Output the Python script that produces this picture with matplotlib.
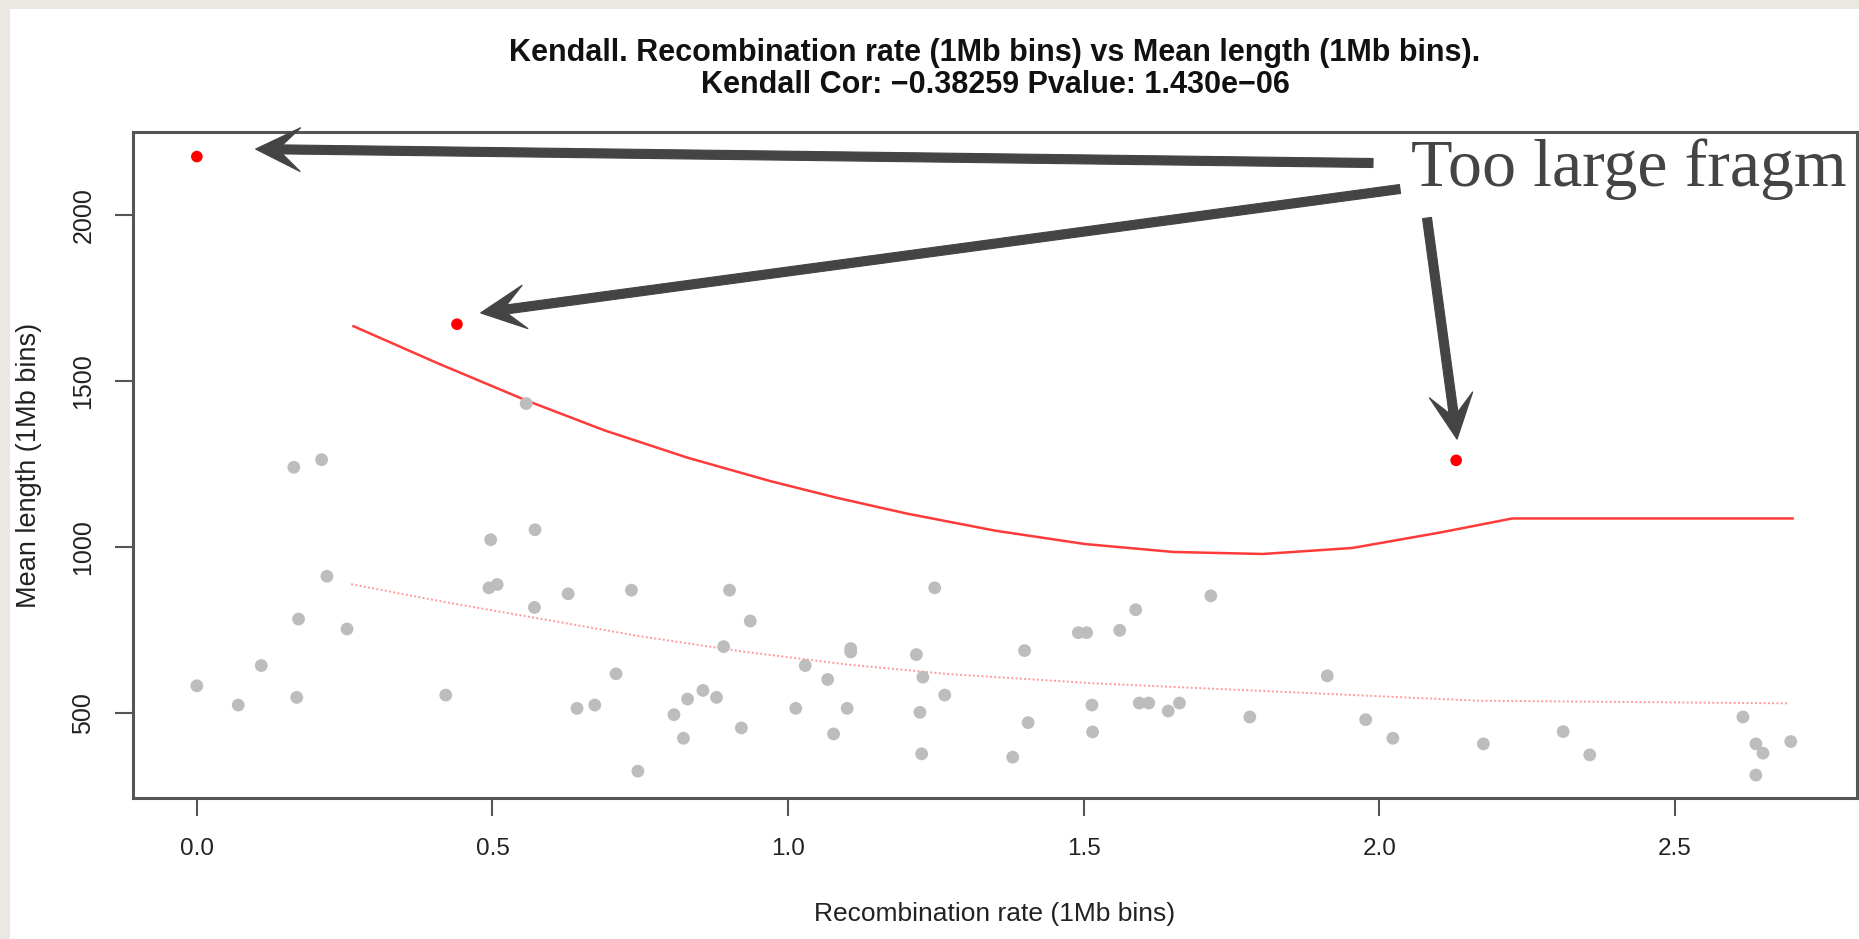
import matplotlib
matplotlib.use("Agg")
import matplotlib.pyplot as plt
from matplotlib.patches import Rectangle, Polygon
import numpy as np

plt.rcParams['font.family'] = ['Liberation Sans', 'DejaVu Sans']

# ---- data -------------------------------------------------------------
rec_rate = [0.557, 0.164, 0.211, 0.572, 0.497, 0.220, 0.494, 0.508, 0.571, 0.628,
            0.735, 0.901, 0.172, 0.254, 0.109, 0.000, 0.070, 0.169, 0.421, 0.709,
            0.643, 0.673, 0.807, 0.830, 0.856, 0.879, 0.823, 0.746, 0.891, 0.921,
            0.936, 1.248, 1.029, 1.067, 1.106, 1.106, 1.013, 1.100, 1.077, 1.217,
            1.228, 1.265, 1.223, 1.226, 1.380, 1.400, 1.406, 1.491, 1.505, 1.514,
            1.515, 1.561, 1.588, 1.594, 1.610, 1.643, 1.662, 1.715, 1.781, 1.912,
            1.977, 2.023, 2.176, 2.311, 2.356, 2.615, 2.637, 2.649, 2.637, 2.696]
mean_len = [1431, 1239, 1262, 1051, 1021, 911, 876, 886, 817, 858,
            869, 869, 782, 752, 642, 581, 523, 546, 553, 617,
            513, 523, 494, 541, 567, 546, 423, 324, 699, 454,
            776, 876, 642, 600, 693, 683, 513, 513, 436, 675,
            607, 553, 501, 376, 366, 687, 470, 741, 741, 523,
            442, 748, 810, 529, 529, 505, 529, 852, 487, 611,
            479, 423, 406, 443, 373, 487, 406, 378, 312, 413]

outlier_rate = [0.000, 0.440, 2.130]
outlier_len = [2175, 1670, 1260]

upper_x = [0.265, 0.408, 0.555, 0.690, 0.830, 0.971, 1.083, 1.200, 1.351, 1.502,
           1.652, 1.803, 1.954, 2.104, 2.225, 2.699]
upper_y = [1664, 1552, 1442, 1350, 1268, 1197, 1147, 1100, 1048, 1008,
           984, 978, 996, 1043, 1085, 1085]

lower_x = [0.261, 0.420, 0.584, 0.750, 0.928, 1.100, 1.273, 1.522, 1.845, 2.168, 2.693]
lower_y = [887, 833, 782, 730, 683, 645, 616, 588, 562, 536, 528]

x_ticks = [0.0, 0.5, 1.0, 1.5, 2.0, 2.5]
y_ticks = [500, 1000, 1500, 2000]

title = ("Kendall. Recombination rate (1Mb bins) vs Mean length (1Mb bins).\n"
         "Kendall Cor: \u22120.38259 Pvalue: 1.430e\u221206")
note = "Too large fragm"

# ---- figure -------------------------------------------------------------
W, H = 1859, 939
fig = plt.figure(figsize=(W / 100, H / 100), dpi=100)
fig.patch.set_facecolor('#ebe8e2')
fig.patches.append(Rectangle((10 / W, 0), 1, 1 - 9 / H, transform=fig.transFigure,
                             facecolor='white', edgecolor='none', zorder=-10))

def fx(px):
    return px / W

def fy(py):
    return 1 - py / H

ax = fig.add_axes([fx(133), fy(798), (1857 - 133) / W, (798 - 132) / H])
ax.set_zorder(1)
ax.set_facecolor('white')
ax.set_xlim(-0.108, 2.808)
ax.set_ylim(243, 2249)

ax.plot(lower_x, lower_y, color='#ff9a9a', lw=1.4, linestyle=(0, (1, 1.2)), zorder=2)
ax.plot(upper_x, upper_y, color='#ff3a3a', lw=1.8, zorder=2)
ax.scatter(rec_rate, mean_len, s=85, color='#bdbdbd', edgecolors='none', zorder=3)
ax.scatter(outlier_rate, outlier_len, s=70, color='#ff0000', edgecolors='none', zorder=4)

for sp in ax.spines.values():
    sp.set_color('#555555')
    sp.set_linewidth(2.2)

ax.set_xticks(x_ticks)
ax.set_xticklabels([f"{v:.1f}" for v in x_ticks])
ax.set_yticks(y_ticks)
ax.set_yticklabels([str(v) for v in y_ticks])
ax.tick_params(axis='both', length=13, width=1.5, color='#555555', labelcolor='#222222')
ax.tick_params(axis='x', pad=16, labelsize=17.5)
ax.tick_params(axis='y', pad=14, labelsize=18)
for lab in ax.get_yticklabels():
    lab.set_rotation(90)
    lab.set_va('center')

ax.set_xlabel("Recombination rate (1Mb bins)", fontsize=19, color='#222222', labelpad=30)
ax.set_ylabel("Mean length (1Mb bins)", fontsize=19.5, color='#222222', labelpad=21)
fig.text(fx(995), fy(69), title, ha='center', va='center', fontsize=22,
         fontweight='bold', color='#111111', linespacing=1.12)

# ---- callout ------------------------------------------------------------
fig.text(fx(1411), fy(186), note, fontsize=49, color='#444444',
         family=['Liberation Serif', 'DejaVu Serif'], va='baseline', ha='left')

fig.canvas.draw()

def to_px(xd, yd):
    dx, dy = ax.transData.transform((xd, yd))
    return dx, H - dy

def arrow(tail, tip, shaft=9.0, head_len=45.0, head_half=22.0, neck=27.0):
    t = np.array(tail, float)
    p = np.array(tip, float)
    u = (p - t) / np.linalg.norm(p - t)
    n = np.array([-u[1], u[0]])
    pts = [p,
           p - u * head_len + n * head_half,
           p - u * neck + n * shaft / 2,
           t + n * shaft / 2,
           t - n * shaft / 2,
           p - u * neck - n * shaft / 2,
           p - u * head_len - n * head_half]
    pts = [(fx(q[0]), fy(q[1])) for q in pts]
    fig.patches.append(Polygon(pts, closed=True, transform=fig.transFigure,
                               facecolor='#444444', edgecolor='#444444', lw=0.8,
                               zorder=10))

tails = [(1373, 163), (1400, 189), (1427, 218)]
offsets = [(58.7, -7.5), (23.6, -11.3), (0.9, -21.1)]
for tail, off, xr, yr in zip(tails, offsets, outlier_rate, outlier_len):
    px, py = to_px(xr, yr)
    arrow(tail, (px + off[0], py + off[1]))

fig.savefig("out.png", dpi=100, facecolor=fig.get_facecolor())
